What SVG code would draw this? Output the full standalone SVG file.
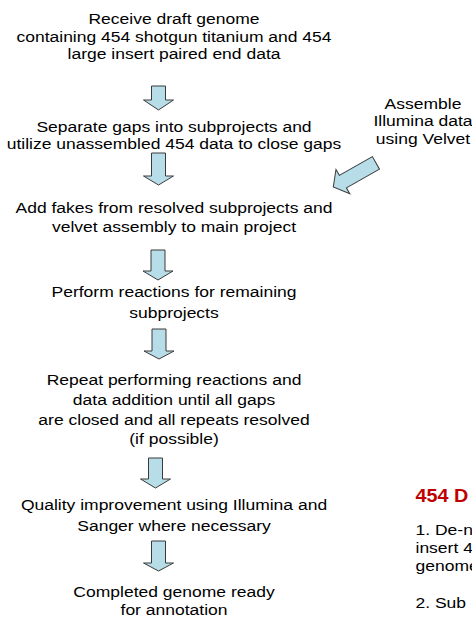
<svg xmlns="http://www.w3.org/2000/svg" width="472" height="618" viewBox="0 0 472 618">
<style>
text{font-family:"Liberation Sans",Arial,sans-serif;font-size:15.5px;fill:#000;text-anchor:middle}
.l{text-anchor:start}
.h{font-weight:bold;fill:#C00000;font-size:17.5px}
.arr{fill:#B7DDE8;stroke:#3A3A3A;stroke-width:1;stroke-linejoin:miter}
</style>
<rect width="472" height="618" fill="#fff"/>
<g id="n1" transform="translate(174,0) scale(1.13,1)">
<text x="0" y="24.3">Receive draft genome</text>
<text x="0" y="41.8">containing 454 shotgun titanium and 454</text>
<text x="0" y="59.3">large insert paired end data</text>
</g>
<g id="n2" transform="translate(174,0) scale(1.13,1)">
<text x="0" y="131.7">Separate gaps into subprojects and</text>
<text x="0" y="149.3">utilize unassembled 454 data to close gaps</text>
</g>
<g id="n3" transform="translate(423,0) scale(1.13,1)">
<text x="0" y="109">Assemble</text>
<text x="0" y="126.5">Illumina data</text>
<text x="0" y="144">using Velvet</text>
</g>
<g id="n4" transform="translate(174,0) scale(1.13,1)">
<text x="0" y="213.5">Add fakes from resolved subprojects and</text>
<text x="0" y="232">velvet assembly to main project</text>
</g>
<g id="n5" transform="translate(174,0) scale(1.13,1)">
<text x="0" y="297">Perform reactions for remaining</text>
<text x="0" y="318">subprojects</text>
</g>
<g id="n6" transform="translate(174,0) scale(1.13,1)">
<text x="0" y="385">Repeat performing reactions and</text>
<text x="0" y="405">data addition until all gaps</text>
<text x="0" y="425">are closed and all repeats resolved</text>
<text x="0" y="444.5">(if possible)</text>
</g>
<g id="n7" transform="translate(174,0) scale(1.13,1)">
<text x="0" y="510">Quality improvement using Illumina and</text>
<text x="0" y="531.5">Sanger where necessary</text>
</g>
<g id="n8" transform="translate(174,0) scale(1.13,1)">
<text x="0" y="596.7">Completed genome ready</text>
<text x="0" y="615">for annotation</text>
</g>
<g id="n9" transform="translate(415.5,0) scale(1.13,1)">
<text class="l h" x="0" y="502">454 D</text>
<text class="l" x="0" y="535">1. De-n</text>
<text class="l" x="0" y="553">insert 4</text>
<text class="l" x="0" y="571">genome</text>
<text class="l" x="0" y="608">2.  Sub</text>
</g>
<g id="connectors">
<polygon class="arr" points="151.5,86 165.5,86 165.5,100 173.5,100 158.5,110 143.5,100 151.5,100"/>
<polygon class="arr" points="151.5,153 165.5,153 165.5,176 173.5,176 158.5,185 143.5,176 151.5,176"/>
<polygon class="arr" points="151,250 165,250 165,271 173,271 158,280 143,271 151,271"/>
<polygon class="arr" points="152,329 166,329 166,351 174,351 159,359 144,351 152,351"/>
<polygon class="arr" points="148.5,458 162.5,458 162.5,479 170.5,479 155.5,488 140.5,479 148.5,479"/>
<polygon class="arr" points="151.5,541 165.5,541 165.5,563 173.5,563 158.5,571 143.5,563 151.5,563"/>
<polygon class="arr" transform="translate(333.3,187) rotate(150.5)" points="-49,-7.2 -11,-7.2 -11,-14 0,0 -11,14 -11,7.2 -49,7.2"/>
</g>
</svg>
